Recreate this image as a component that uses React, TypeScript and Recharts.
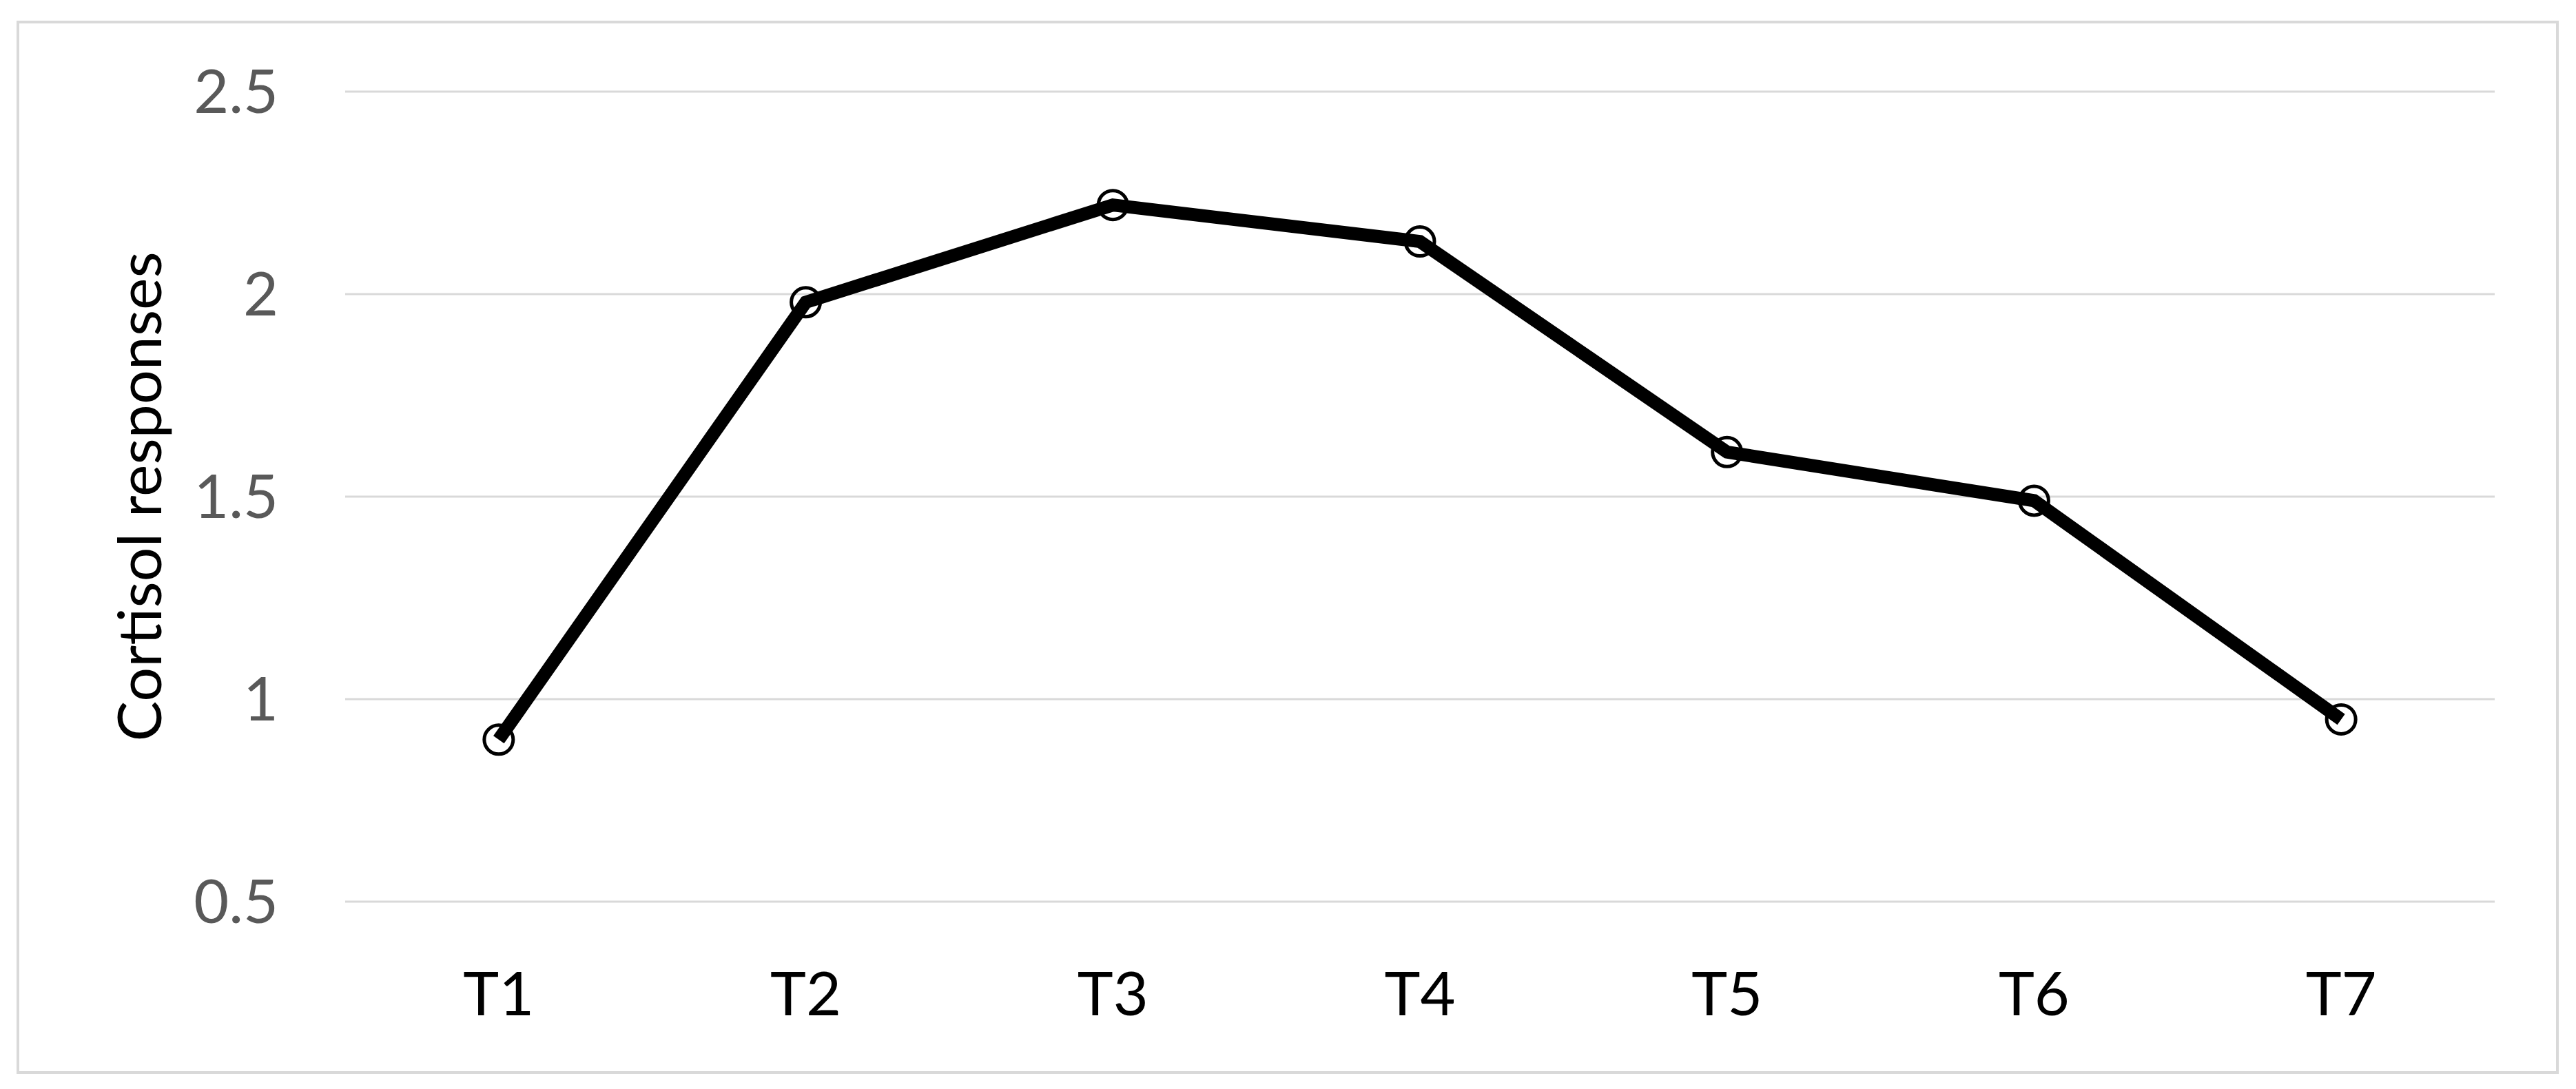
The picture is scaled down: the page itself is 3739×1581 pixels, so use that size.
import React from 'react';
import { LineChart, Line, XAxis, YAxis, CartesianGrid } from 'recharts';

const categories = ['T1', 'T2', 'T3', 'T4', 'T5', 'T6', 'T7'];
const cortisol = [0.9, 1.98, 2.22, 2.13, 1.61, 1.49, 0.95];
const yTicks = [0.5, 1, 1.5, 2, 2.5];
const yLabel = 'Cortisol responses';

const data = categories.map((c, i) => ({ name: c, value: cortisol[i] }));

const FONT = 'Lato, "Open Sans", sans-serif';

const YLabel = (props: any) => {
  const vb = props.viewBox || {};
  const x = vb.x - 1;
  const y = vb.y + vb.height / 2;
  return (
    <text
      x={x}
      y={y}
      transform={`rotate(-90, ${x}, ${y})`}
      textAnchor="middle"
      dominantBaseline="central"
      fill="#000"
      fontSize={88}
      fontFamily={FONT}
    >
      {yLabel}
    </text>
  );
};

export default function App() {
  return (
    <div style={{ position: 'absolute', left: 0, top: 0, width: 3739, height: 1581, background: '#fff' }}>
      <div
        style={{
          position: 'absolute',
          left: 24,
          top: 30,
          width: 3690,
          height: 1529,
          border: '4px solid #d9d9d9',
          boxSizing: 'border-box',
        }}
      />
      <div style={{ position: 'absolute', left: 0, top: 0 }}>
        <LineChart
          width={3739}
          height={1581}
          data={data}
          margin={{ top: 133, right: 118, bottom: 172, left: 201 }}
        >
          <CartesianGrid vertical={false} stroke="#d9d9d9" strokeWidth={3} />
          <XAxis
            dataKey="name"
            scale="band"
            axisLine={false}
            tickLine={false}
            height={100}
            tickMargin={97}
            tick={{ fill: '#000', fontSize: 88, fontFamily: FONT }}
          />
          <YAxis
            width={300}
            domain={[0.5, 2.5]}
            ticks={yTicks}
            axisLine={false}
            tickLine={false}
            tickMargin={91}
            tick={{ fill: '#595959', fontSize: 88, fontFamily: FONT }}
            label={<YLabel />}
          />
          <Line
            type="linear"
            dataKey="value"
            stroke="#000"
            strokeWidth={19}
            dot={{ r: 21, fill: 'none', stroke: '#000', strokeWidth: 5 }}
            isAnimationActive={false}
          />
        </LineChart>
      </div>
    </div>
  );
}
